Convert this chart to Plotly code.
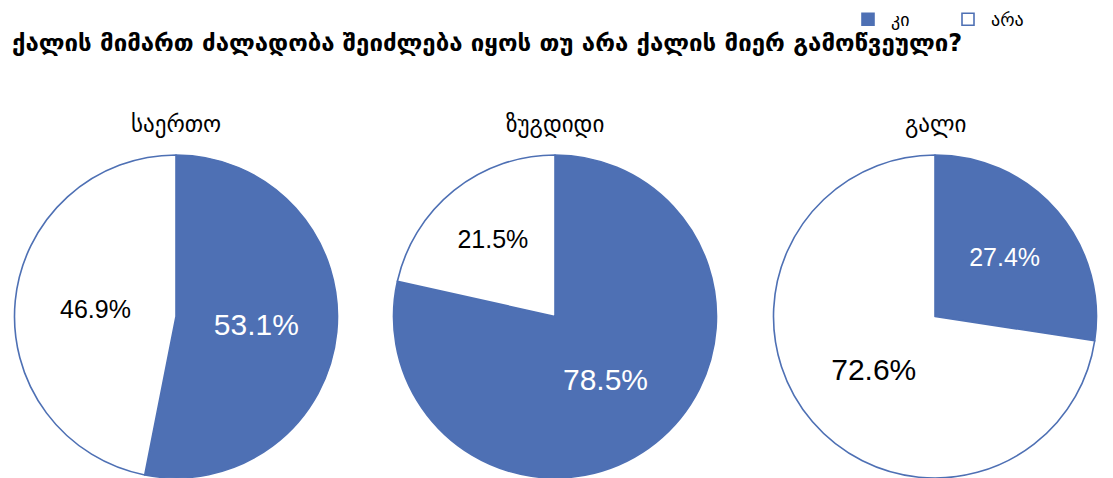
import plotly.graph_objects as go

# Survey answers: "can violence against women be provoked by the woman?"
question = "ქალის მიმართ ძალადობა შეიძლება იყოს თუ არა ქალის მიერ გამოწვეული?"
answers = ["კი", "არა"]
regions = ["საერთო", "ზუგდიდი", "გალი"]
yes_pct = [53.1, 78.5, 27.4]
no_pct = [46.9, 21.5, 72.6]

BLUE = "#4E70B4"
W, H = 1113, 478

# horizontal placement of each pie (pixel centres), radius in pixels
centers_px = [176, 555, 935]
radius_px = 161.5

fig = go.Figure()
for i, (region, y, n) in enumerate(zip(regions, yes_pct, no_pct)):
    cx = centers_px[i]
    values = [y, n]
    sizes = [30 if v > 50 else 25 for v in values]
    fig.add_trace(go.Pie(
        labels=answers,
        values=values,
        sort=False,
        direction="clockwise",
        rotation=0,
        domain=dict(x=[(cx - radius_px) / W, (cx + radius_px) / W],
                    y=[0, 2 * radius_px / H]),
        marker=dict(colors=[BLUE, "#FFFFFF"], line=dict(color=BLUE, width=1.6)),
        texttemplate="%{value:.1f}%",
        textposition="inside",
        insidetextorientation="horizontal",
        textfont=dict(family="Liberation Sans, Arial, sans-serif",
                      size=sizes, color=["#FFFFFF", "#000000"]),
        hoverinfo="label+value",
        showlegend=(i == 0),
    ))
    fig.add_annotation(
        text=region, x=cx / W, y=1 - 124 / H, xref="paper", yref="paper",
        xanchor="center", yanchor="middle", showarrow=False,
        font=dict(family="DejaVu Sans, sans-serif", size=23, color="#000000"),
    )

fig.update_layout(
    width=W, height=H,
    margin=dict(l=0, r=0, t=0, b=0, autoexpand=False),
    paper_bgcolor="#FFFFFF",
    plot_bgcolor="#FFFFFF",
    title=dict(
        text="<b>" + question + "</b>",
        x=12 / W, xanchor="left", xref="paper",
        y=1 - 43 / H, yanchor="middle", yref="container",
        font=dict(family="DejaVu Sans, sans-serif", size=24, color="#000000"),
    ),
    legend=dict(
        orientation="h",
        x=845 / W, xanchor="left",
        y=1 - 1 / H, yanchor="top",
        entrywidth=49, entrywidthmode="pixels",
        itemwidth=36,
        font=dict(family="DejaVu Sans, sans-serif", size=18, color="#000000"),
        traceorder="normal",
    ),
)

fig.write_html("out.html")
